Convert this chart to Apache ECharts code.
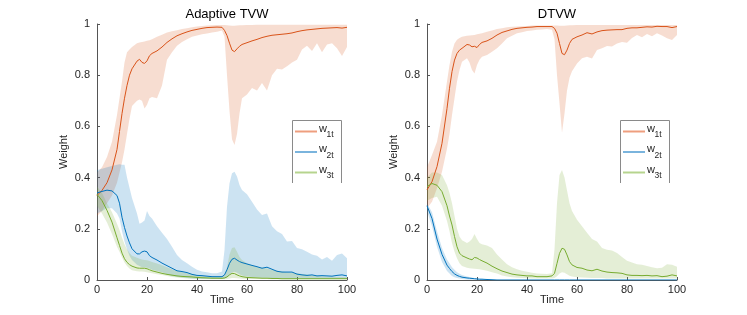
<!DOCTYPE html>
<html>
<head>
<meta charset="utf-8">
<script src="https://cdn.jsdelivr.net/npm/echarts/dist/echarts.min.js"></script>
<style>html,body{margin:0;padding:0;background:#fff;}#c{width:747px;height:315px;}</style>
</head>
<body>
<div id="c"></div>
<script>
// ---- time grid ----
const T = [0,2,4,6,8,9,10,11,12,13,14,
  16,17,18,19,20,21,22,
  24,26,28,30,32,34,36,38,40,42,44,46,48,50,
  51,52,53,54,55,56,57,58,
  60,62,64,66,68,70,72,74,76,78,80,82,84,86,88,90,92,94,96,98,100];

const xTicks = [0,20,40,60,80,100];
const yTicks = [0,0.2,0.4,0.6,0.8,1];
const titles = ['Adaptive TVW', 'DTVW'];
const legendNames = [['w','1t'],['w','2t'],['w','3t']];

// ---- Adaptive TVW ----
const tvwW1 = [0.33,0.35,0.38,0.43,0.51,0.58,0.65,0.71,0.76,0.80,0.825,
  0.855,0.862,0.85,0.846,0.856,0.876,0.885,
  0.895,0.91,0.928,0.942,0.954,0.962,0.969,0.975,0.979,0.983,0.986,0.987,0.988,0.987,
  0.975,0.955,0.925,0.898,0.892,0.903,0.913,0.92,
  0.927,0.934,0.94,0.947,0.952,0.956,0.958,0.96,0.962,0.965,0.97,0.974,0.977,0.979,0.981,0.983,0.984,0.985,0.986,0.984,0.987];
const tvwW1Hi = [0.42,0.44,0.48,0.54,0.645,0.71,0.775,0.85,0.89,0.90,0.91,
  0.925,0.928,0.93,0.932,0.935,0.937,0.94,
  0.95,0.958,0.967,0.972,0.976,0.98,0.983,0.987,0.99,0.992,0.994,0.995,0.996,0.996,
  0.996,0.995,0.994,0.993,0.993,0.994,0.995,0.995,
  0.996,0.996,0.997,0.997,0.997,0.997,0.997, 0.997,0.997,0.997,0.997,0.997,0.997,0.997, 0.997,0.997,0.997,0.997,0.997,0.997,0.997];
const tvwW1Lo = [0.25,0.27,0.30,0.33,0.38,0.42,0.46,0.51,0.57,0.63,0.68,
  0.70,0.705,0.70,0.67,0.685,0.71,0.715,
  0.71,0.76,0.86,0.89,0.915,0.93,0.94,0.95,0.955,0.96,0.963,0.967,0.97,0.975,
  0.95,0.80,0.66,0.55,0.527,0.57,0.65,0.71,
  0.725,0.75,0.74,0.77,0.74,0.80,0.825,0.822,0.835,0.85,0.86,0.90,0.915,0.895,0.925,0.89,0.92,0.925,0.905,0.875,0.91];

const tvwW2 = [0.34,0.346,0.351,0.348,0.33,0.30,0.245,0.205,0.172,0.145,0.122,
  0.102,0.102,0.11,0.113,0.11,0.095,0.088,
  0.078,0.066,0.056,0.046,0.036,0.033,0.029,0.022,0.018,0.017,0.015,0.013,0.013,0.013,
  0.02,0.04,0.065,0.081,0.085,0.078,0.072,0.068,
  0.0625,0.057,0.052,0.046,0.05,0.042,0.034,0.031,0.031,0.031,0.023,0.02,0.018,0.02,0.016,0.017,0.016,0.015,0.018,0.02,0.016];
const tvwW2Hi = [0.43,0.435,0.44,0.445,0.45,0.452,0.45,0.45,0.40,0.36,0.32,
  0.26,0.22,0.225,0.232,0.27,0.25,0.24,
  0.21,0.185,0.16,0.13,0.098,0.078,0.065,0.052,0.04,0.033,0.03,0.026,0.026,0.033,
  0.117,0.286,0.378,0.417,0.423,0.404,0.371,0.352,
  0.335,0.306,0.275,0.254,0.26,0.21,0.19,0.18,0.15,0.152,0.125,0.12,0.11,0.1,0.095,0.08,0.09,0.075,0.098,0.104,0.085];
const tvwW2Lo = [0.26,0.27,0.28,0.28,0.26,0.24,0.19,0.15,0.12,0.095,0.078,
  0.06,0.055,0.05,0.05,0.048,0.045,0.04,
  0.035,0.03,0.022,0.016,0.012,0.01,0.008,0.006,0.005,0.004,0.004,0.004,0.004,0.004,
  0.005,0.01,0.02,0.03,0.032,0.028,0.022,0.018,
  0.014,0.012,0.01,0.009,0.009,0.008,0.007,0.006,0.005,0.005,0.005,0.005,0.004,0.004,0.004,0.004,0.004,0.004,0.004,0.004,0.004];

const tvwW3 = [0.335,0.31,0.272,0.226,0.165,0.135,0.105,0.083,0.069,0.06,0.054,
  0.047,0.046,0.046,0.046,0.044,0.04,0.036,
  0.031,0.026,0.022,0.019,0.016,0.014,0.013,0.012,0.01,0.009,0.008,0.007,0.007,0.0065,
  0.008,0.012,0.02,0.026,0.025,0.02,0.016,0.013,
  0.01,0.009,0.008,0.007,0.007,0.006,0.006,0.005,0.005,0.005,0.005,0.005,0.005,0.005,0.005,0.005,0.005,0.005,0.005,0.005,0.005];
const tvwW3Hi = [0.365,0.34,0.30,0.265,0.22,0.195,0.165,0.14,0.12,0.105,0.095,
  0.087,0.083,0.08,0.078,0.077,0.074,0.07,
  0.064,0.058,0.05,0.042,0.036,0.031,0.027,0.023,0.019,0.017,0.015,0.014,0.013,0.012,
  0.02,0.05,0.1,0.125,0.128,0.11,0.09,0.078,
  0.065,0.058,0.052,0.048,0.045,0.04,0.036,0.033,0.03,0.028,0.026,0.023,0.021,0.019,0.017,0.015,0.014,0.013,0.012,0.012,0.011];
const tvwW3Lo = [0.29,0.26,0.225,0.18,0.13,0.11,0.088,0.068,0.055,0.045,0.038,
  0.034,0.033,0.033,0.032,0.03,0.028,0.026,
  0.022,0.02,0.016,0.012,0.01,0.008,0.006,0.005,0.004,0.003,0.003,0.003,0.003,0.003,
  0.003,0.004,0.006,0.008,0.008,0.007,0.006,0.005,
  0.004,0.004,0.004,0.004,0.004,0.003,0.003,0.003,0.003,0.003,0.003,0.003,0.003,0.003,0.003,0.003,0.003,0.003,0.003,0.003,0.003];

// ---- DTVW ----
const dtvwW1 = [0.352,0.384,0.443,0.534,0.67,0.749,0.814,0.859,0.885,0.898,0.905,
  0.92,0.918,0.911,0.913,0.908,0.92,0.928,
  0.934,0.944,0.957,0.967,0.973,0.979,0.983,0.985,0.987,0.988,0.99,0.99,0.99,0.99,
  0.983,0.964,0.924,0.885,0.88,0.898,0.924,0.94,
  0.95,0.957,0.966,0.961,0.969,0.974,0.976,0.977,0.978,0.978,0.983,0.985,0.985,0.987,0.989,0.988,0.991,0.99,0.99,0.986,0.99];
const dtvwW1Hi = [0.44,0.488,0.54,0.645,0.775,0.84,0.892,0.924,0.938,0.945,0.95,
  0.954,0.955,0.956,0.957,0.96,0.962,0.964,
  0.97,0.975,0.98,0.983,0.987,0.989,0.99,0.991,0.992,0.994,0.994,0.994,0.994,0.994,
  0.994,0.994,0.993,0.993,0.993,0.994,0.995,0.995,
  0.996,0.996,0.996,0.996,0.996,0.996,0.996, 0.996,0.996,0.996,0.996,0.996,0.996,0.996, 0.996,0.996,0.996,0.996,0.996,0.996,0.996];
const dtvwW1Lo = [0.28,0.306,0.358,0.423,0.514,0.57,0.645,0.71,0.775,0.82,0.853,
  0.866,0.85,0.82,0.807,0.84,0.86,0.872,
  0.879,0.892,0.905,0.924,0.944,0.954,0.964,0.968,0.973,0.975,0.978,0.979,0.98,0.978,
  0.94,0.80,0.69,0.575,0.65,0.74,0.79,0.815,
  0.846,0.866,0.872,0.865,0.898,0.905,0.914,0.912,0.924,0.93,0.927,0.945,0.957,0.948,0.961,0.952,0.964,0.955,0.944,0.9375,0.957];

const dtvwW2 = [0.29,0.24,0.16,0.10,0.058,0.045,0.033,0.024,0.018,0.014,0.011,
  0.008,0.007,0.006,0.005,0.004,0.003,0.003,
  0.002,0.001,0,0,0,0,0,0,0,0,0,0,0,0,
  0,0,0,0,0,0,0,0,
  0,0,0,0,0,0,0,0,0,0,0,0,0,0,0,0,0,0,0,0,0];
const dtvwW2Hi = [0.30,0.265,0.19,0.125,0.08,0.065,0.05,0.04,0.03,0.024,0.02,
  0.014,0.012,0.01,0.008,0.007,0.006,0.005,
  0.003,0.002,0.001,0,0,0,0,0,0,0,0,0,0,0,
  0,0,0,0,0,0,0,0,
  0,0,0,0,0,0,0,0,0,0,0,0,0,0,0,0,0,0,0,0,0];
const dtvwW2Lo = [0.27,0.21,0.13,0.07,0.035,0.025,0.016,0.011,0.008,0.006,0.004,
  0.002,0.001,0.001,0.001,0.001,0,0,
  0,0,0,0,0,0,0,0,0,0,0,0,0,0,
  0,0,0,0,0,0,0,0,
  0,0,0,0,0,0,0,0,0,0,0,0,0,0,0,0,0,0,0,0,0];

const dtvwW3 = [0.365,0.377,0.37,0.345,0.29,0.25,0.215,0.17,0.13,0.105,0.095,
  0.086,0.082,0.079,0.088,0.086,0.08,0.075,
  0.066,0.054,0.044,0.035,0.029,0.023,0.02,0.018,0.016,0.016,0.013,0.013,0.013,0.016,
  0.026,0.065,0.104,0.124,0.12,0.098,0.072,0.059,
  0.049,0.046,0.039,0.036,0.042,0.035,0.031,0.029,0.028,0.026,0.02,0.018,0.018,0.017,0.018,0.016,0.017,0.013,0.015,0.02,0.016];
const dtvwW3Hi = [0.40,0.42,0.42,0.41,0.37,0.34,0.30,0.25,0.20,0.17,0.155,
  0.145,0.15,0.16,0.18,0.16,0.145,0.14,
  0.135,0.125,0.10,0.08,0.062,0.05,0.042,0.036,0.032,0.028,0.025,0.024,0.023,0.026,
  0.12,0.30,0.41,0.43,0.40,0.35,0.30,0.27,
  0.235,0.21,0.185,0.16,0.15,0.125,0.118,0.115,0.105,0.09,0.075,0.068,0.062,0.06,0.055,0.05,0.046,0.048,0.062,0.06,0.052];
const dtvwW3Lo = [0.31,0.32,0.325,0.29,0.23,0.19,0.145,0.11,0.085,0.065,0.055,
  0.048,0.046,0.045,0.044,0.043,0.042,0.04,
  0.036,0.03,0.025,0.018,0.014,0.011,0.009,0.008,0.007,0.006,0.006,0.006,0.006,0.006,
  0.008,0.015,0.025,0.03,0.028,0.022,0.017,0.014,
  0.011,0.01,0.009,0.008,0.008,0.008,0.006,0.006,0.006,0.006,0.006,0.006,0.006,0.006,0.006,0.006,0.006,0.006,0.006,0.006,0.006];

// ---- styling ----
const COLORS = ['#D95319', '#0072BD', '#77AC30'];
const FILLS = ['rgba(217,83,25,0.2)', 'rgba(0,114,189,0.2)', 'rgba(119,172,48,0.2)'];
const LEGEND_COLORS = ['#EE9E7E', '#7AB4DD', '#B6D48E'];
const FONT = '"Liberation Sans", Arial, Helvetica, sans-serif';
const TXT = '#262626';

const panels = [
  {mean:[tvwW1,tvwW2,tvwW3], lo:[tvwW1Lo,tvwW2Lo,tvwW3Lo], hi:[tvwW1Hi,tvwW2Hi,tvwW3Hi]},
  {mean:[dtvwW1,dtvwW2,dtvwW3], lo:[dtvwW1Lo,dtvwW2Lo,dtvwW3Lo], hi:[dtvwW1Hi,dtvwW2Hi,dtvwW3Hi]}
];

let bad = [];
panels.forEach((p,pi)=>['mean','lo','hi'].forEach(k=>p[k].forEach((a,j)=>{ if(a.length!==T.length) bad.push(pi+k+j+':'+a.length); })));

const gridLefts = [97, 427];
const grids = gridLefts.map(l => ({left:l, top:24, width:250, height:256, containLabel:false}));

const xAxes = grids.map((g,i)=>({
  type:'value', gridIndex:i, min:xTicks[0], max:xTicks[xTicks.length-1], interval:xTicks[1]-xTicks[0],
  name:'Time', nameLocation:'middle', nameGap:14, nameMoveOverlap:false,
  nameTextStyle:{fontFamily:FONT, fontSize:11, color:TXT},
  axisLine:{show:true, onZero:false, lineStyle:{color:'#555', width:1}},
  axisTick:{show:true, inside:true, length:3, lineStyle:{color:'#555'}},
  axisLabel:{fontFamily:FONT, fontSize:11, color:TXT, margin:4},
  splitLine:{show:false}
}));
const yAxes = grids.map((g,i)=>({
  type:'value', gridIndex:i, min:yTicks[0], max:yTicks[yTicks.length-1], interval:yTicks[1]-yTicks[0],
  name:'Weight', nameLocation:'middle', nameGap:28, nameRotate:90, nameMoveOverlap:false,
  nameTextStyle:{fontFamily:FONT, fontSize:11, color:TXT},
  axisLine:{show:true, onZero:false, lineStyle:{color:'#555', width:1}},
  axisTick:{show:true, inside:true, length:3, lineStyle:{color:'#555'}},
  axisLabel:{fontFamily:FONT, fontSize:11, color:TXT, margin:7},
  splitLine:{show:false}
}));

const series = [];
panels.forEach((p,pi)=>{
  for (let k=0;k<3;k++){
    const lo = p.lo[k], hi = p.hi[k];
    series.push({
      type:'custom', xAxisIndex:pi, yAxisIndex:pi, silent:true, animation:false, z:1,
      clip:true, data:[[0,0]], encode:{x:0,y:1},
      renderItem:(params, api)=>{
        const pts = [];
        for (let i=0;i<T.length;i++) pts.push(api.coord([T[i], hi[i]]));
        for (let i=T.length-1;i>=0;i--) pts.push(api.coord([T[i], lo[i]]));
        return {type:'polygon', shape:{points:pts}, style:{fill:FILLS[k], stroke:null}};
      }
    });
  }
  for (let k=0;k<3;k++){
    series.push({
      type:'line', xAxisIndex:pi, yAxisIndex:pi, z:3, animation:false, silent:true,
      showSymbol:false, symbol:'none',
      data:T.map((t,i)=>[t, p.mean[k][i]]),
      lineStyle:{color:COLORS[k], width:1}
    });
  }
});

// legend boxes drawn as graphics
const graphic = [];
const legendLefts = [292, 620];
legendLefts.forEach(L=>{
  graphic.push({type:'polyline', shape:{points:[[L+0.5,183],[L+0.5,120.5],[L+49.5,120.5],[L+49.5,183]]},
    style:{stroke:'#8a8a8a', lineWidth:1, fill:null}, z:10});
  legendNames.forEach((nm,k)=>{
    const y = 131.5 + k*20.5;
    graphic.push({type:'line', shape:{x1:L+3, y1:y, x2:L+25, y2:y}, style:{stroke:LEGEND_COLORS[k], lineWidth:2}, z:10});
    graphic.push({type:'text', x:L+27, y:y-3, style:{text:nm[0], font:'11px '+FONT, fill:TXT, textVerticalAlign:'middle'}, z:10});
    graphic.push({type:'text', x:L+34.5, y:y+3.5, style:{text:nm[1], font:'8.5px '+FONT, fill:TXT, textVerticalAlign:'middle'}, z:10});
  });
});
if (bad.length) graphic.push({type:'text', x:5, y:300, style:{text:'LEN '+bad.join(' '), fill:'red', font:'10px sans-serif'}});

const chart = echarts.init(document.getElementById('c'), null, {renderer:'canvas'});
chart.setOption({
  animation:false,
  backgroundColor:'#fff',
  title: titles.map((t,i)=>({text:t, left:gridLefts[i]+125, top:3, textAlign:'center',
    textStyle:{fontFamily:FONT, fontSize:13, fontWeight:'normal', color:'#000'}})),
  grid: grids, xAxis: xAxes, yAxis: yAxes, series: series, graphic: graphic
});
</script>
</body>
</html>
